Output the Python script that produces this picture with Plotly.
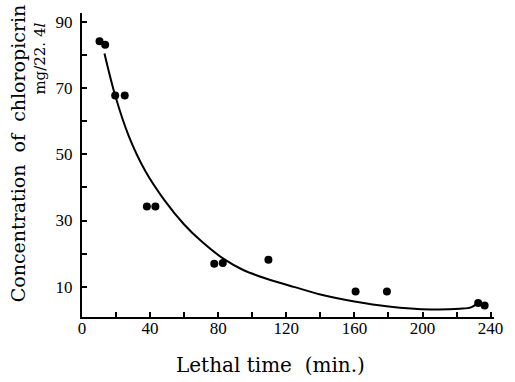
import plotly.graph_objects as go

# Observed lethal times (min) and chloropicrin concentrations (mg/22.4 l)
lethal_time = [10.3, 13.6, 19.5, 25.1, 38.1, 43.1, 77.7, 82.7, 109.5, 160.7, 179.1, 232.7, 236.5]
concentration = [84.1, 83.0, 67.7, 67.7, 34.2, 34.2, 17.0, 17.2, 18.2, 8.6, 8.6, 5.1, 4.4]

# Hand-drawn fitted curve
curve_time = [13.2, 19.5, 27.6, 37.1, 48.6, 60, 70, 83, 95, 108, 125, 140, 160, 180, 205, 222, 228.5, 232.3]
curve_conc = [80.4, 67.7, 55.3, 45.0, 36.0, 28.8, 23.8, 18.5, 15.0, 12.5, 9.9, 7.7, 5.6, 4.1, 3.2, 3.4, 3.8, 5.0]

# Axis ticks
x_tick_vals = list(range(0, 241, 20))
x_tick_text = [str(v) if v % 40 == 0 else "" for v in x_tick_vals]
y_tick_vals = list(range(10, 91, 10))
y_tick_text = [str(v) if v % 20 == 10 else "" for v in y_tick_vals]

serif = "Liberation Serif"
title_font = "DejaVu Serif"

fig = go.Figure()
fig.add_trace(go.Scatter(
    x=curve_time, y=curve_conc, mode="lines",
    line=dict(color="black", width=2, shape="spline", smoothing=0.9),
    hoverinfo="skip", showlegend=False,
))
fig.add_trace(go.Scatter(
    x=lethal_time, y=concentration, mode="markers",
    marker=dict(color="black", size=8),
    showlegend=False,
))

axis_common = dict(
    showgrid=False, zeroline=False, showline=True,
    linecolor="black", linewidth=2,
    ticks="inside", ticklen=5, tickwidth=1.5, tickcolor="black",
    tickfont=dict(family=serif, size=17, color="black"),
    tickmode="array",
)

fig.update_layout(
    width=515, height=382,
    margin=dict(l=82, r=12, t=13, b=64.5),
    paper_bgcolor="white", plot_bgcolor="white",
    xaxis=dict(range=[0, 242], tickvals=x_tick_vals, ticktext=x_tick_text,
               ticklabelstandoff=-5, **axis_common),
    yaxis=dict(range=[0.9, 92.6], tickvals=y_tick_vals, ticktext=y_tick_text,
               ticklabelstandoff=4, **axis_common),
    annotations=[
        dict(text="Lethal time  (min.)", xref="paper", yref="paper",
             x=0.4584, y=0, xanchor="center", yanchor="middle", yshift=-47.5,
             showarrow=False, font=dict(family=title_font, size=20, color="black")),
        dict(text="Concentration  of  chloropicrin", xref="paper", yref="paper",
             x=0, y=0.5386, xanchor="center", yanchor="middle", xshift=-64,
             textangle=-90, showarrow=False,
             font=dict(family=title_font, size=19, color="black")),
        dict(text="mg/22. 4<i>l</i>", xref="paper", yref="paper",
             x=0, y=0.85, xanchor="center", yanchor="middle", xshift=-42,
             textangle=-90, showarrow=False,
             font=dict(family=title_font, size=15, color="black")),
    ],
)

fig.write_html("out.html")
